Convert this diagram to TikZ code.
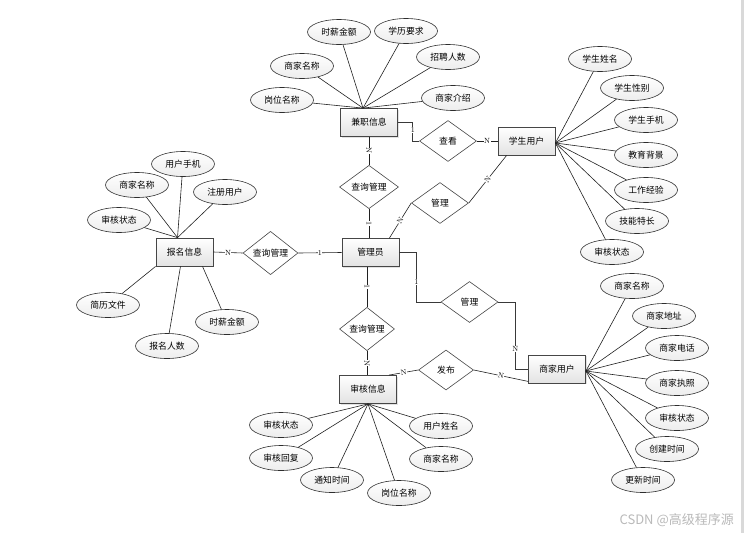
\documentclass[tikz,border=0pt]{standalone}
\usepackage{fontspec}
\newfontfamily\cjk{Noto Sans CJK SC}
\usetikzlibrary{shapes.geometric,shadows}
\begin{document}
\begin{tikzpicture}[x=1pt,y=-1pt,
  every node/.style={font=\cjk\fontsize{8.8}{10}\selectfont},
  ent/.style={rectangle,draw=gray!55!black,line width=0.8pt,top color=white,bottom color=gray!22,
    minimum width=57pt,minimum height=28pt,inner sep=0pt,
    drop shadow={shadow xshift=1pt,shadow yshift=-1pt,fill=gray!45}},
  attr/.style={ellipse,draw=gray!35!black,line width=0.6pt,top color=white,bottom color=gray!14,
    minimum width=63pt,minimum height=25pt,inner sep=0pt},
  rel/.style={diamond,draw=gray!55!black,line width=0.6pt,fill=white,
    minimum width=57pt,minimum height=41pt,inner sep=0pt},
  ln/.style={draw=gray!25!black,line width=0.6pt},
  eln/.style={draw=gray!45!black,line width=1pt},
  lbl/.style={font=\fontsize{7.5}{8}\selectfont,inner sep=0.4pt,fill=white,text=black}
]
\useasboundingbox (0,0) rectangle (744,533);
\fill[gray!30] (741,0) rectangle (744,533);

% entities
\node[ent] (jz) at (369,122.5) {兼职信息};
\node[ent] (xs) at (526.5,141) {学生用户};
\node[ent] (bm) at (184.5,252) {报名信息};
\node[ent] (gly) at (370.5,252.5) {管理员};
\node[ent] (sh) at (368,389.5) {审核信息};
\node[ent] (sj) at (557,369) {商家用户};

% relations
\node[rel] (ck) at (448,141) {查看};
\node[rel,minimum width=59pt] (cx1) at (369,187) {查询管理};
\node[rel] (gl1) at (440,203) {管理};
\node[rel,minimum width=55pt] (cx2) at (270.5,253) {查询管理};
\node[rel] (gl2) at (469.5,302) {管理};
\node[rel,minimum width=55pt,minimum height=42pt] (cx3) at (367,329) {查询管理};
\node[rel,minimum width=55pt,minimum height=40pt] (fb) at (446,370) {发布};

% relation connectors
\draw[eln] (jz.east) -- ++(15,0) |- node[lbl,pos=0.2]{1} (ck.west);
\draw[ln] (ck.east) -- node[lbl]{N} (xs.west);
\draw[ln] (jz.south) -- node[lbl,sloped]{N} (cx1.north);
\draw[ln] (cx1.south) -- node[lbl,sloped]{1} (cx1.south |- gly.north);
\draw[ln] (gly.west) -- node[lbl]{1} (cx2.east);
\draw[ln] (cx2.west) -- node[lbl]{N} (bm.east);
\draw[ln] ([xshift=-10pt]gly.north east) -- node[lbl,sloped]{N} (gl1.west);
\draw[ln] (gl1.east) -- node[lbl,sloped]{N} ([xshift=9pt]xs.south west);
\draw[eln] (gly.east) -- ++(17,0) |- node[lbl,pos=0.3]{1} (gl2.west);
\draw[eln] (gl2.east) -- ++(17,0) |- node[lbl,pos=0.35]{N} (sj.west);
\draw[ln] (cx3.north |- gly.south) -- node[lbl,sloped]{1} (cx3.north);
\draw[ln] (cx3.south) -- node[lbl,sloped]{N} (cx3.south |- sh.north);
\draw[ln] ([xshift=-8pt]sh.north east) -- node[lbl,sloped]{N} (fb.west);
\draw[ln] (fb.east) -- node[lbl,sloped]{N} ([yshift=2pt]sj.south west);

% 兼职信息 attributes
\coordinate (jzm) at ([xshift=-6pt]jz.north);
\node[attr] (j1) at (339,32) {时薪金额};
\node[attr] (j2) at (406,31) {学历要求};
\node[attr] (j3) at (302,66) {商家名称};
\node[attr] (j4) at (448,57) {招聘人数};
\node[attr] (j5) at (282,100) {岗位名称};
\node[attr] (j6) at (453,98) {商家介绍};
\foreach \a in {j1,j2,j3,j4,j5,j6} \draw[ln] (jzm) -- (\a);

% 学生用户 attributes
\coordinate (xsm) at ([yshift=-2pt]xs.east);
\node[attr] (s1) at (600,59) {学生姓名};
\node[attr] (s2) at (632,88) {学生性别};
\node[attr] (s3) at (646,120) {学生手机};
\node[attr] (s4) at (646,155) {教育背景};
\node[attr] (s5) at (646,190) {工作经验};
\node[attr] (s6) at (637,221) {技能特长};
\node[attr] (s7) at (612,252) {审核状态};
\foreach \a in {s1,s2,s3,s4,s5,s6,s7} \draw[ln] (xsm) -- (\a);

% 报名信息 attributes
\coordinate (bmm) at ([xshift=-7pt]bm.north);
\node[attr] (b1) at (183,164) {用户手机};
\node[attr] (b2) at (137,185) {商家名称};
\node[attr] (b3) at (225,192) {注册用户};
\node[attr] (b4) at (119,220) {审核状态};
\node[attr] (b5) at (108,305) {简历文件};
\node[attr] (b6) at (227,322) {时薪金额};
\node[attr] (b7) at (167,346) {报名人数};
\foreach \a in {b1,b2,b3,b4} \draw[ln] (bmm) -- (\a);
\draw[ln] (bm.south west) -- (b5);
\draw[ln] ([xshift=-4pt]bm.south) -- (b7);
\draw[ln] ([xshift=18pt]bm.south) -- (b6);

% 审核信息 attributes
\coordinate (shm) at (sh.south);
\node[attr] (h1) at (281,425) {审核状态};
\node[attr] (h2) at (281,458) {审核回复};
\node[attr] (h3) at (332,480) {通知时间};
\node[attr] (h4) at (399,493) {岗位名称};
\node[attr] (h5) at (441,426) {用户姓名};
\node[attr] (h6) at (441,459) {商家名称};
\foreach \a in {h1,h2,h3,h4,h5,h6} \draw[ln] (shm) -- (\a);

% 商家用户 attributes
\coordinate (sjm) at ([yshift=-2pt]sj.east);
\node[attr] (m1) at (632,286) {商家名称};
\node[attr] (m2) at (664,316) {商家地址};
\node[attr] (m3) at (677,348) {商家电话};
\node[attr] (m4) at (677,383) {商家执照};
\node[attr] (m5) at (677,418) {审核状态};
\node[attr] (m6) at (667,449) {创建时间};
\node[attr] (m7) at (643,480) {更新时间};
\foreach \a in {m1,m2,m3,m4,m5,m6,m7} \draw[ln] (sjm) -- (\a);

% watermark
\node[anchor=east,text=gray!55,font=\cjk\fontsize{13}{15}\selectfont,inner sep=0pt] (wm) at (734,520) {CSDN @高级程序源};
\end{tikzpicture}
\end{document}
